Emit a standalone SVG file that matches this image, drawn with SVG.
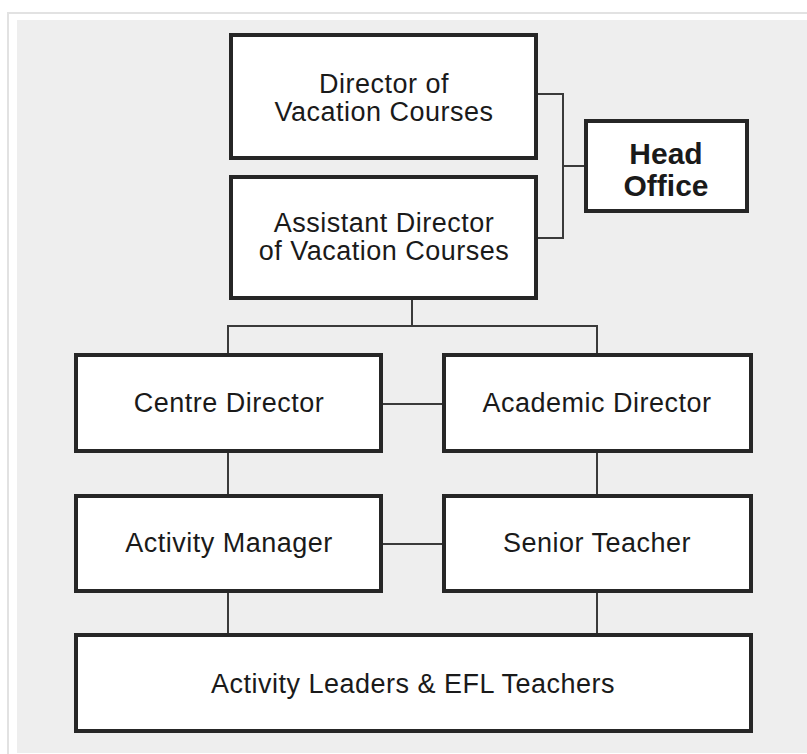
<svg xmlns="http://www.w3.org/2000/svg" width="807" height="754" viewBox="0 0 807 754">
<style>
.box{fill:#fff;stroke:#262626;stroke-width:4}
.lbl{font-family:"Liberation Sans",Arial,sans-serif;font-size:27px;fill:#1a1a1a;text-anchor:middle;letter-spacing:0.5px}
.bold{font-weight:bold;font-size:30px;letter-spacing:0}
.con{fill:none;stroke:#3a3a3a;stroke-width:2}
</style>
<rect x="0" y="0" width="807" height="754" fill="#fff"/>
<path d="M8,754 V13 H807" fill="none" stroke="#e2e2e2" stroke-width="2"/>
<rect x="17" y="20" width="790" height="733" fill="#eeeeee"/>
<g id="connectors">
<path class="con" d="M538,94 H563 V238 H538 M563,166 H584"/>
<path class="con" d="M412,300 V326 M228,353 V326 H597 V353"/>
<path class="con" d="M383,404 H442"/>
<path class="con" d="M228,453 V494 M597,453 V494"/>
<path class="con" d="M383,544 H442"/>
<path class="con" d="M228,592 V633 M597,592 V633"/>
</g>
<g id="director">
<rect class="box" x="231" y="35" width="305" height="123"/>
<text class="lbl" x="384" y="93">Director of</text>
<text class="lbl" x="384" y="121">Vacation Courses</text>
</g>
<g id="head-office">
<rect class="box" x="586" y="121" width="161" height="90"/>
<text class="lbl bold" x="666" y="164">Head</text>
<text class="lbl bold" x="666" y="196">Office</text>
</g>
<g id="assistant">
<rect class="box" x="231" y="177" width="305" height="121"/>
<text class="lbl" x="384" y="232">Assistant Director</text>
<text class="lbl" x="384" y="260">of Vacation Courses</text>
</g>
<g id="centre-director">
<rect class="box" x="76" y="355" width="305" height="96"/>
<text class="lbl" x="229" y="412">Centre Director</text>
</g>
<g id="academic-director">
<rect class="box" x="444" y="355" width="307" height="96"/>
<text class="lbl" x="597" y="412">Academic Director</text>
</g>
<g id="activity-manager">
<rect class="box" x="76" y="496" width="305" height="95"/>
<text class="lbl" x="229" y="552">Activity Manager</text>
</g>
<g id="senior-teacher">
<rect class="box" x="444" y="496" width="307" height="95"/>
<text class="lbl" x="597" y="552">Senior Teacher</text>
</g>
<g id="leaders-teachers">
<rect class="box" x="76" y="635" width="675" height="96"/>
<text class="lbl" x="413" y="693">Activity Leaders &amp; EFL Teachers</text>
</g>
</svg>
